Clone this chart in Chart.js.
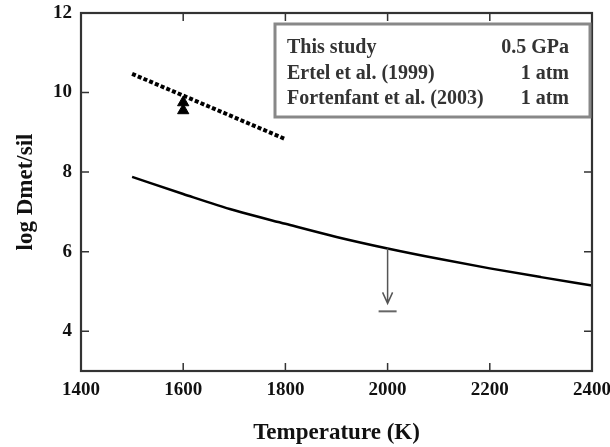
<!DOCTYPE html>
<html>
<head>
<meta charset="utf-8">
<script src="https://cdn.jsdelivr.net/npm/chart.js@4"></script>
<style>
  html, body { margin: 0; padding: 0; background: #fff; }
  #wrap { width: 610px; height: 447px; position: relative; }
</style>
</head>
<body>
<div id="wrap"><canvas id="chart"></canvas></div>
<script>
// data
const temps = [1500, 1600, 1700, 1800, 1900, 2000, 2100, 2200, 2300, 2400];
const thisStudy = [7.88, 7.45, 7.04, 6.70, 6.37, 6.08, 5.82, 5.58, 5.36, 5.15];
const ertelT = [1500, 1800];
const ertelLog = [10.47, 8.83];
const fortenfantT = [1600, 1600];
const fortenfantLog = [9.75, 9.55];
const limitT = 2000;
const limitFrom = 6.08;
const limitTip = 4.7;
const limitBar = 4.5;
const xTicks = [1400, 1600, 1800, 2000, 2200, 2400];
const yTicks = [4, 6, 8, 10, 12];
const legendRows = [
    ['This study', '0.5 GPa'],
    ['Ertel et al. (1999)', '1 atm'],
    ['Fortenfant et al. (2003)', '1 atm']
];

const serif = '"Liberation Serif", "Times New Roman", serif';
const toXY = (xs, ys) => xs.map((x, i) => ({x: x, y: ys[i]}));

// frame with inward ticks on all four sides
const framePlugin = {
    id: 'frame',
    afterDraw(chart) {
        const {ctx, chartArea: a, scales: {x, y}} = chart;
        ctx.save();
        ctx.strokeStyle = '#333';
        ctx.lineWidth = 1.5;
        ctx.beginPath();
        xTicks.slice(1, -1).forEach(v => {
            const px = x.getPixelForValue(v);
            ctx.moveTo(px, a.bottom); ctx.lineTo(px, a.bottom - 8);
            ctx.moveTo(px, a.top); ctx.lineTo(px, a.top + 8);
        });
        yTicks.slice(0, -1).forEach(v => {
            const py = y.getPixelForValue(v);
            ctx.moveTo(a.left, py); ctx.lineTo(a.left + 8, py);
            ctx.moveTo(a.right, py); ctx.lineTo(a.right - 8, py);
        });
        ctx.stroke();
        ctx.lineWidth = 2.2;
        ctx.strokeRect(a.left, a.top, a.right - a.left, a.bottom - a.top);
        ctx.restore();
    }
};

// upper-limit arrow at 2000 K
const arrowPlugin = {
    id: 'arrow',
    afterDatasetsDraw(chart) {
        const {ctx, scales: {x, y}} = chart;
        const px = x.getPixelForValue(limitT);
        const y0 = y.getPixelForValue(limitFrom);
        const y1 = y.getPixelForValue(limitTip);
        const yb = y.getPixelForValue(limitBar);
        ctx.save();
        ctx.strokeStyle = '#555';
        ctx.lineWidth = 1.5;
        ctx.beginPath();
        ctx.moveTo(px, y0); ctx.lineTo(px, y1);
        ctx.moveTo(px - 5, y1 - 11); ctx.lineTo(px, y1);
        ctx.lineTo(px + 5, y1 - 11);
        ctx.stroke();
        ctx.lineWidth = 2;
        ctx.strokeStyle = '#666';
        ctx.beginPath();
        ctx.moveTo(px - 9, yb); ctx.lineTo(px + 9, yb);
        ctx.stroke();
        ctx.restore();
    }
};

// boxed text legend, top right
const legendBox = {
    id: 'legendBox',
    afterDraw(chart) {
        const {ctx} = chart;
        ctx.save();
        ctx.fillStyle = '#fff';
        ctx.fillRect(275, 24, 315, 93);
        ctx.strokeStyle = '#888';
        ctx.lineWidth = 3;
        ctx.strokeRect(275, 24, 315, 93);
        ctx.fillStyle = '#333';
        ctx.font = 'bold 20px ' + serif;
        ctx.textBaseline = 'alphabetic';
        legendRows.forEach((row, i) => {
            const by = 53 + i * 25.5;
            ctx.textAlign = 'left';
            ctx.fillText(row[0], 287, by);
            ctx.textAlign = 'right';
            ctx.fillText(row[1], 569, by);
        });
        ctx.restore();
    }
};

new Chart(document.getElementById('chart'), {
    type: 'scatter',
    data: {
        datasets: [
            {
                label: 'This study',
                data: toXY(temps, thisStudy),
                showLine: true,
                borderColor: '#000',
                borderWidth: 2.5,
                pointRadius: 0,
                cubicInterpolationMode: 'monotone'
            },
            {
                label: 'Ertel et al. (1999)',
                data: toXY(ertelT, ertelLog),
                showLine: true,
                borderColor: '#000',
                borderWidth: 4,
                borderDash: [4, 2.2],
                pointRadius: 0
            },
            {
                label: 'Fortenfant et al. (2003)',
                data: toXY(fortenfantT, fortenfantLog),
                showLine: false,
                pointStyle: 'triangle',
                pointRadius: 6.5,
                backgroundColor: '#000',
                borderColor: '#000',
                borderWidth: 1
            }
        ]
    },
    options: {
        responsive: true,
        maintainAspectRatio: false,
        animation: false,
        events: [],
        layout: { padding: { left: 0, right: 18, top: 13, bottom: 0 } },
        plugins: { legend: { display: false }, tooltip: { enabled: false } },
        scales: {
            x: {
                type: 'linear',
                min: 1400,
                max: 2400,
                afterBuildTicks: s => { s.ticks = xTicks.map(v => ({value: v})); },
                afterFit: s => { s.height = 76; s.paddingLeft = 0; s.paddingRight = 0; },
                grid: { display: false, drawTicks: false },
                border: { display: false },
                ticks: {
                    padding: 8,
                    maxRotation: 0,
                    color: '#111',
                    callback: v => String(v),
                    font: { family: serif, size: 19, weight: 'bold' }
                },
                title: {
                    display: true,
                    text: 'Temperature (K)',
                    color: '#111',
                    padding: { top: 0, bottom: 0 },
                    font: { family: serif, size: 23, weight: 'bold' }
                }
            },
            y: {
                type: 'linear',
                min: 3,
                max: 12,
                afterBuildTicks: s => { s.ticks = yTicks.map(v => ({value: v})); },
                afterFit: s => { s.width = 81; s.paddingTop = 0; s.paddingBottom = 0; },
                grid: { display: false, drawTicks: false },
                border: { display: false },
                ticks: {
                    padding: 9,
                    color: '#111',
                    callback: v => String(v),
                    font: { family: serif, size: 19, weight: 'bold' }
                },
                title: {
                    display: true,
                    text: 'log Dmet/sil',
                    color: '#111',
                    padding: { top: 12, bottom: 0 },
                    font: { family: serif, size: 23, weight: 'bold' }
                }
            }
        }
    },
    plugins: [arrowPlugin, framePlugin, legendBox]
});
</script>
</body>
</html>
